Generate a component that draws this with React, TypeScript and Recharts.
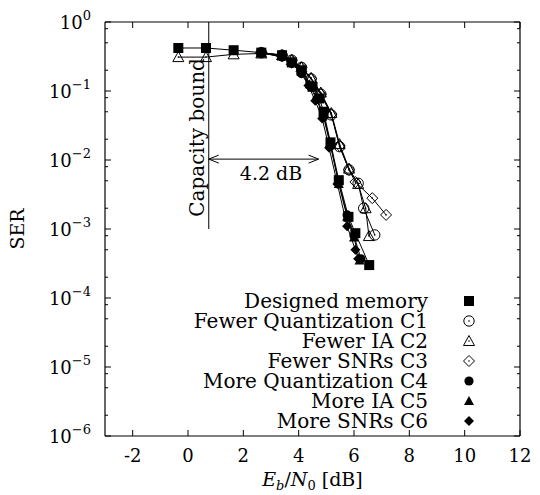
import React from 'react';
import { LineChart, Line, XAxis, YAxis, ReferenceLine, ReferenceDot, Legend } from 'recharts';

// Eb/N0 (dB) and SER per configuration
const xDesigned = [-0.35, 0.65, 1.65, 2.65, 3.4, 3.75, 4.1, 4.5, 4.75, 4.9, 5.15, 5.45, 5.8, 6.05, 6.55];
const serDesigned = [0.42, 0.42, 0.39, 0.36, 0.33, 0.26, 0.2, 0.115, 0.078, 0.05, 0.018, 0.0051, 0.0015, 0.00087, 0.0003];

const xC1 = [2.65, 3.4, 3.75, 4.1, 4.45, 4.8, 5.18, 5.48, 5.82, 6.15, 6.35, 6.75];
const serC1 = [0.36, 0.33, 0.28, 0.22, 0.15, 0.09, 0.045, 0.0156, 0.0072, 0.0046, 0.002, 0.00082];

const xC2 = [-0.35, 0.65, 1.65, 2.65, 3.4, 3.75, 4.1, 4.45, 4.8, 5.18, 5.48, 5.82, 6.15, 6.42, 6.54];
const serC2 = [0.31, 0.31, 0.34, 0.35, 0.33, 0.28, 0.22, 0.155, 0.095, 0.048, 0.017, 0.0075, 0.0045, 0.002, 0.00079];

const xC3 = [2.65, 3.4, 3.75, 4.1, 4.45, 4.8, 5.18, 5.48, 5.82, 6.05, 6.66, 7.16];
const serC3 = [0.36, 0.33, 0.28, 0.22, 0.15, 0.09, 0.046, 0.016, 0.0072, 0.0048, 0.0028, 0.0016];

const xC4 = [2.65, 3.4, 3.75, 4.1, 4.4, 4.65, 4.9, 5.15, 5.45, 5.75, 6.0, 6.25];
const serC4 = [0.36, 0.31, 0.25, 0.18, 0.12, 0.075, 0.042, 0.016, 0.0047, 0.0016, 0.0008, 0.00037];

const xC5 = [2.65, 3.4, 3.75, 4.1, 4.4, 4.65, 4.9, 5.15, 5.45, 5.75, 6.0, 6.2];
const serC5 = [0.36, 0.32, 0.26, 0.19, 0.125, 0.08, 0.045, 0.017, 0.0045, 0.0015, 0.00075, 0.00035];

const xC6 = [2.65, 3.4, 3.75, 4.1, 4.35, 4.6, 4.85, 5.1, 5.4, 5.75, 6.05, 6.15];
const serC6 = [0.36, 0.31, 0.25, 0.18, 0.12, 0.072, 0.04, 0.015, 0.0045, 0.0011, 0.0005, 0.00037];

const xTicks = [-2, 0, 2, 4, 6, 8, 10, 12];
const yMajor = [1, 1e-1, 1e-2, 1e-3, 1e-4, 1e-5, 1e-6];
const yMinorSteps = [2, 5, 8];

const capacityBound = 0.75;
const gapEnd = 4.72;
const gapLevel = 0.0103;

// plot box in px (the axes below are sized to land on it)
const W = 540;
const H = 495;
const BOX = { left: 105, right: 520, top: 22, bottom: 436 };
const FONT = '"DejaVu Serif", serif';

type Kind = 'square' | 'circleOpen' | 'triOpen' | 'diaOpen' | 'circle' | 'tri' | 'dia';

const series: { name: string; kind: Kind; xs: number[]; ys: number[] }[] = [
  { name: 'Designed memory', kind: 'square', xs: xDesigned, ys: serDesigned },
  { name: 'Fewer Quantization C1', kind: 'circleOpen', xs: xC1, ys: serC1 },
  { name: 'Fewer IA C2', kind: 'triOpen', xs: xC2, ys: serC2 },
  { name: 'Fewer SNRs C3', kind: 'diaOpen', xs: xC3, ys: serC3 },
  { name: 'More Quantization C4', kind: 'circle', xs: xC4, ys: serC4 },
  { name: 'More IA C5', kind: 'tri', xs: xC5, ys: serC5 },
  { name: 'More SNRs C6', kind: 'dia', xs: xC6, ys: serC6 },
];

const yTicks: number[] = [];
yMajor.forEach((v) => {
  yTicks.push(v);
  if (v < 1) yMinorSteps.forEach((m) => yTicks.push(v * m));
});

function Marker({ cx, cy, kind }: { cx: number; cy: number; kind: Kind }) {
  const dot = <circle cx={cx} cy={cy} r={0.8} fill="#000" />;
  switch (kind) {
    case 'square':
      return <rect x={cx - 5} y={cy - 5} width={10} height={10} fill="#000" />;
    case 'circle':
      return <circle cx={cx} cy={cy} r={4.6} fill="#000" />;
    case 'circleOpen':
      return (
        <g>
          <circle cx={cx} cy={cy} r={5.2} fill="none" stroke="#000" strokeWidth={1} />
          {dot}
        </g>
      );
    case 'tri':
      return <path d={`M${cx - 5},${cy + 4} L${cx + 5},${cy + 4} L${cx},${cy - 5} Z`} fill="#000" />;
    case 'triOpen':
      return (
        <g>
          <path d={`M${cx - 5.5},${cy + 4.5} L${cx + 5.5},${cy + 4.5} L${cx},${cy - 5.5} Z`} fill="none" stroke="#000" strokeWidth={1} />
          {dot}
        </g>
      );
    case 'dia':
      return <path d={`M${cx},${cy - 5} L${cx + 5},${cy} L${cx},${cy + 5} L${cx - 5},${cy} Z`} fill="#000" />;
    default:
      return (
        <g>
          <path d={`M${cx},${cy - 5.5} L${cx + 5.5},${cy} L${cx},${cy + 5.5} L${cx - 5.5},${cy} Z`} fill="none" stroke="#000" strokeWidth={1} />
          {dot}
        </g>
      );
  }
}

function YTick(props: any) {
  const { x, y, payload } = props;
  const v = payload.value;
  const e = Math.round(Math.log10(v));
  const major = Math.abs(v - Math.pow(10, e)) < 1e-12;
  const len = major ? 6 : 3;
  return (
    <g>
      <line x1={BOX.left} x2={BOX.left + len} y1={y} y2={y} stroke="#000" />
      <line x1={BOX.right} x2={BOX.right - len} y1={y} y2={y} stroke="#000" />
      {major && (
        <text x={x} y={y + 7} textAnchor="end" fontFamily={FONT} fontSize={18} fill="#000">
          <tspan>10</tspan>
          <tspan dy={-9} fontSize={13}>{e === 0 ? '0' : '\u2212' + -e}</tspan>
        </text>
      )}
    </g>
  );
}

function XTick(props: any) {
  const { x, y, payload } = props;
  return (
    <g>
      <line x1={x} x2={x} y1={BOX.bottom} y2={BOX.bottom - 6} stroke="#000" />
      <line x1={x} x2={x} y1={BOX.top} y2={BOX.top + 6} stroke="#000" />
      <text x={x} y={y} dy="0.75em" textAnchor="middle" fontFamily={FONT} fontSize={18} fill="#000">
        {String(payload.value)}
      </text>
    </g>
  );
}

function XLabel(props: any) {
  const vb = props.viewBox;
  const cx = vb.x + vb.width / 2;
  return (
    <text x={cx} y={vb.y + 50} textAnchor="middle" fontFamily={FONT} fontSize={19} fill="#000">
      <tspan fontStyle="italic">E</tspan>
      <tspan fontStyle="italic" fontSize={13} dy={4}>b</tspan>
      <tspan dy={-4}>/</tspan>
      <tspan fontStyle="italic">N</tspan>
      <tspan fontSize={13} dy={4}>0</tspan>
      <tspan dy={-4}> [dB]</tspan>
    </text>
  );
}

function LegendBox() {
  return (
    <svg width={W} height={H}>
      {series.map((s, i) => {
        const cy = 301 + i * 20;
        return (
          <g key={s.name}>
            <text x={428} y={cy + 7} textAnchor="end" fontFamily={FONT} fontSize={20} fill="#000">
              {s.name}
            </text>
            <Marker cx={469} cy={cy} kind={s.kind} />
          </g>
        );
      })}
    </svg>
  );
}

export default function App() {
  return (
    <div style={{ position: 'absolute', left: 0, top: 0, background: '#fff' }}>
      <LineChart
        width={W}
        height={H}
        margin={{ top: BOX.top, right: W - BOX.right, left: 5, bottom: 0 }}
      >
        <XAxis
          type="number"
          dataKey="x"
          domain={[-3, 12]}
          ticks={xTicks}
          interval={0}
          allowDataOverflow
          height={H - BOX.bottom}
          tickSize={0}
          tickMargin={12}
          tickLine={false}
          axisLine={{ stroke: '#000', strokeWidth: 1.2 }}
          tick={<XTick />}
          label={{ content: <XLabel /> }}
        />
        <YAxis
          type="number"
          scale="log"
          domain={[1e-6, 1]}
          ticks={yTicks}
          interval={0}
          allowDataOverflow
          width={BOX.left - 5}
          tickSize={0}
          tickMargin={14}
          tickLine={false}
          axisLine={{ stroke: '#000', strokeWidth: 1.2 }}
          tick={<YTick />}
          label={{
            value: 'SER',
            angle: -90,
            position: 'insideLeft',
            offset: 12,
            style: { fontFamily: FONT, fontSize: 19, fill: '#000', textAnchor: 'middle' },
          }}
        />
        <ReferenceLine y={1} stroke="#000" strokeWidth={1.2} />
        <ReferenceLine x={12} stroke="#000" strokeWidth={1.2} />

        {/* capacity bound and the 4.2 dB gap */}
        <ReferenceLine
          segment={[{ x: capacityBound, y: 1 }, { x: capacityBound, y: 1e-3 }]}
          stroke="#000"
          strokeWidth={1}
        />
        <ReferenceDot
          x={capacityBound}
          y={0.0212}
          shape={(p: any) => (
            <text
              x={p.cx - 12}
              y={p.cy}
              transform={`rotate(-90 ${p.cx - 12} ${p.cy})`}
              textAnchor="middle"
              dominantBaseline="central"
              fontFamily={FONT}
              fontSize={20}
              fill="#000"
            >
              Capacity bound
            </text>
          )}
        />
        <ReferenceLine
          segment={[{ x: capacityBound, y: gapLevel }, { x: gapEnd, y: gapLevel }]}
          stroke="#000"
          strokeWidth={1}
        />
        <ReferenceDot
          x={capacityBound}
          y={gapLevel}
          shape={(p: any) => (
            <path d={`M${p.cx + 10},${p.cy - 4} L${p.cx},${p.cy} L${p.cx + 10},${p.cy + 4}`} fill="none" stroke="#000" />
          )}
        />
        <ReferenceDot
          x={gapEnd}
          y={gapLevel}
          shape={(p: any) => (
            <path d={`M${p.cx - 10},${p.cy - 4} L${p.cx},${p.cy} L${p.cx - 10},${p.cy + 4}`} fill="none" stroke="#000" />
          )}
        />
        <ReferenceDot
          x={3.0}
          y={gapLevel}
          shape={(p: any) => (
            <text x={p.cx} y={p.cy + 21} textAnchor="middle" fontFamily={FONT} fontSize={19} fill="#000">
              4.2 dB
            </text>
          )}
        />

        {series.map((s) => (
          <Line
            key={s.name}
            name={s.name}
            data={s.xs.map((x, i) => ({ x, ser: s.ys[i] }))}
            dataKey="ser"
            stroke="#000"
            strokeWidth={1}
            isAnimationActive={false}
            dot={(p: any) => <Marker key={`${s.name}-${p.index}`} cx={p.cx} cy={p.cy} kind={s.kind} />}
            activeDot={false}
          />
        ))}

        <Legend
          layout="vertical"
          align="center"
          verticalAlign="middle"
          wrapperStyle={{ position: 'absolute', left: 0, top: 0, width: W, height: H, pointerEvents: 'none' }}
          content={() => <LegendBox />}
        />
      </LineChart>
    </div>
  );
}
